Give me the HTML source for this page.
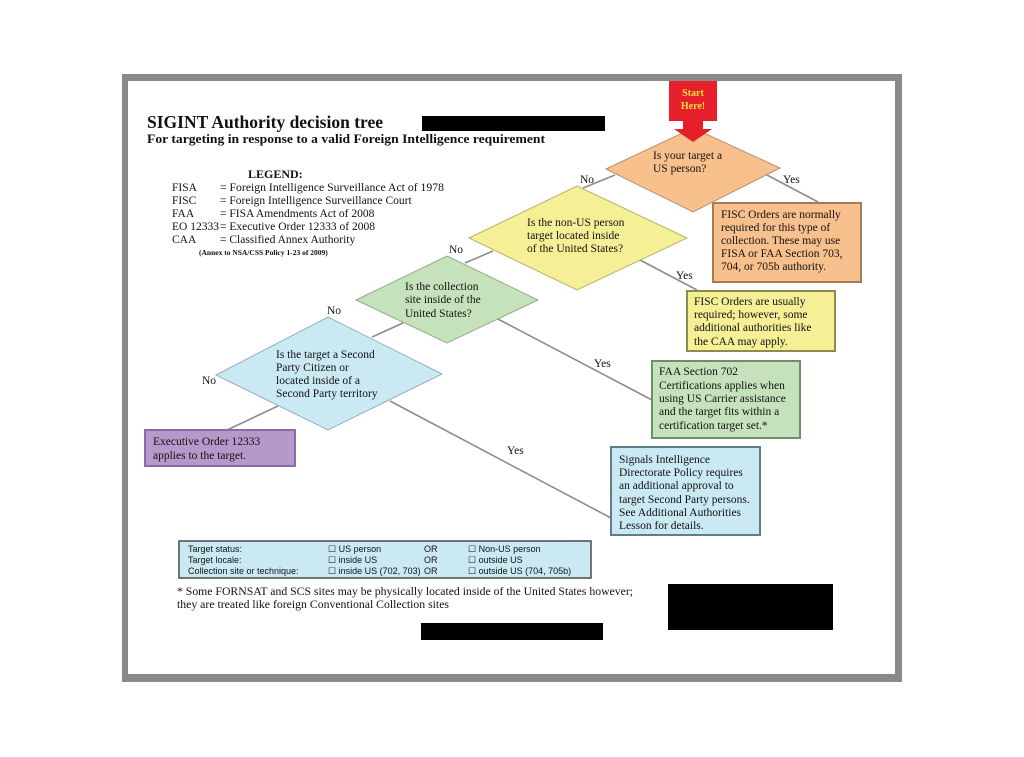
<!DOCTYPE html>
<html><head><meta charset="utf-8"><style>
html,body{margin:0;padding:0;background:#fff;}
svg{display:block;}
text{font-family:"Liberation Serif",serif;fill:#111;}
.s{font-family:"Liberation Sans",sans-serif;font-size:9px;}
</style></head><body>
<svg width="1024" height="757" viewBox="0 0 1024 757" xmlns="http://www.w3.org/2000/svg">
<rect x="0" y="0" width="1024" height="757" fill="#fff"/>
<rect x="122" y="74" width="780" height="608" fill="#8a8a8a"/>
<rect x="128" y="81" width="767" height="593" fill="#fff"/>

<text x="147" y="128" font-size="17.5" font-weight="bold" textLength="236" lengthAdjust="spacingAndGlyphs">SIGINT Authority decision tree</text>
<text x="147" y="143" font-size="13" font-weight="bold" textLength="398" lengthAdjust="spacingAndGlyphs">For targeting in response to a valid Foreign Intelligence requirement</text>
<rect x="422" y="116" width="183" height="15" fill="#000"/>

<text x="248" y="178" font-size="12" font-weight="bold">LEGEND:</text>
<g font-size="11.5">
<text x="172" y="191">FISA</text><text x="220" y="191" textLength="224" lengthAdjust="spacingAndGlyphs">= Foreign Intelligence Surveillance Act of 1978</text>
<text x="172" y="204">FISC</text><text x="220" y="204">= Foreign Intelligence Surveillance Court</text>
<text x="172" y="217">FAA</text><text x="220" y="217">= FISA Amendments Act of 2008</text>
<text x="172" y="230">EO 12333</text><text x="220" y="230">= Executive Order 12333 of 2008</text>
<text x="172" y="243">CAA</text><text x="220" y="243">= Classified Annex Authority</text>
</g>
<text x="199" y="255" font-size="7.5" font-weight="bold">(Annex to NSA/CSS Policy 1-23 of 2009)</text>

<g stroke="#8c8c8c" stroke-width="1.6" fill="none">
<line x1="615" y1="175" x2="583" y2="188"/>
<line x1="767" y1="175" x2="818" y2="202"/>
<line x1="493" y1="251" x2="465" y2="263"/>
<line x1="640" y1="260" x2="697" y2="290"/>
<line x1="403" y1="323" x2="372" y2="337"/>
<line x1="498" y1="319" x2="652" y2="400"/>
<line x1="278" y1="406" x2="227" y2="430"/>
<line x1="390" y1="401" x2="611" y2="518"/>
</g>

<polygon points="606,169 693,128 780,168 693,212" fill="#f8c08c" stroke="#b89070" stroke-width="1"/>
<polygon points="469,238 577,186 687,238 577,290" fill="#f5f096" stroke="#b8b070" stroke-width="1"/>
<polygon points="356,300 447,256 538,300 447,343" fill="#c6e2bc" stroke="#8fae86" stroke-width="1"/>
<polygon points="216,375 328,317 442,374 328,430" fill="#cbe9f3" stroke="#8fb0bb" stroke-width="1"/>

<rect x="669" y="81" width="48" height="40" fill="#e5202b"/>
<polygon points="683,120 703,120 703,129 712,129 693,142 674,129 683,129" fill="#e5202b"/>
<text x="693" y="96" font-size="10" font-weight="bold" text-anchor="middle" style="fill:#f8e23a">Start</text>
<text x="693" y="109" font-size="10" font-weight="bold" text-anchor="middle" style="fill:#f8e23a">Here!</text>

<g font-size="11.5">
<text x="653" y="159">Is your target a</text>
<text x="653" y="172">US person?</text>
<text x="527" y="226">Is the non-US person</text>
<text x="527" y="239">target located inside</text>
<text x="527" y="252">of the United States?</text>
<text x="405" y="290">Is the collection</text>
<text x="405" y="303">site inside of the</text>
<text x="405" y="317">United States?</text>
<text x="276" y="358">Is the target a Second</text>
<text x="276" y="371">Party Citizen or</text>
<text x="276" y="384">located inside of a</text>
<text x="276" y="397">Second Party territory</text>
</g>

<g font-size="11.5" style="fill:#444">
<text x="580" y="183">No</text>
<text x="783" y="183">Yes</text>
<text x="449" y="253">No</text>
<text x="676" y="279">Yes</text>
<text x="327" y="314">No</text>
<text x="594" y="367">Yes</text>
<text x="202" y="384">No</text>
<text x="507" y="454">Yes</text>
</g>

<rect x="713" y="203" width="148" height="79" fill="#f8c08c" stroke="#a87a56" stroke-width="2"/>
<g font-size="11.5">
<text x="721" y="218">FISC Orders are normally</text>
<text x="721" y="231">required for this type of</text>
<text x="721" y="244">collection.  These may use</text>
<text x="721" y="257">FISA or FAA Section 703,</text>
<text x="721" y="270">704, or 705b authority.</text>
</g>

<rect x="687" y="291" width="148" height="60" fill="#f5f096" stroke="#8e8a50" stroke-width="2"/>
<g font-size="11.5">
<text x="694" y="305">FISC Orders are usually</text>
<text x="694" y="318">required; however, some</text>
<text x="694" y="331">additional authorities like</text>
<text x="694" y="345">the CAA may apply.</text>
</g>

<rect x="652" y="361" width="148" height="77" fill="#c6e2bc" stroke="#6f8e6a" stroke-width="2"/>
<g font-size="11.5">
<text x="659" y="375">FAA Section 702</text>
<text x="659" y="389">Certifications applies when</text>
<text x="659" y="402">using US Carrier assistance</text>
<text x="659" y="415">and the target fits within a</text>
<text x="659" y="429">certification target set.*</text>
</g>

<rect x="611" y="447" width="149" height="88" fill="#cbe9f3" stroke="#5f7f88" stroke-width="2"/>
<g font-size="11.5">
<text x="619" y="463">Signals Intelligence</text>
<text x="619" y="476">Directorate Policy requires</text>
<text x="619" y="489">an additional approval to</text>
<text x="619" y="503">target Second Party persons.</text>
<text x="619" y="516">See Additional Authorities</text>
<text x="619" y="529">Lesson for details.</text>
</g>

<rect x="145" y="430" width="150" height="36" fill="#b699cb" stroke="#8f6aa6" stroke-width="2"/>
<g font-size="11.5">
<text x="153" y="445">Executive Order 12333</text>
<text x="153" y="459">applies to the target.</text>
</g>

<rect x="179" y="541" width="412" height="37" fill="#cbe9f3" stroke="#555" stroke-width="1.6"/>
<g class="s">
<text x="188" y="552" class="s">Target status:</text>
<text x="188" y="563" class="s">Target locale:</text>
<text x="188" y="574" class="s">Collection site or technique:</text>
<text x="328" y="552" class="s">☐ US person</text>
<text x="328" y="563" class="s">☐ inside US</text>
<text x="328" y="574" class="s">☐ inside US (702, 703)</text>
<text x="424" y="552" class="s">OR</text>
<text x="424" y="563" class="s">OR</text>
<text x="424" y="574" class="s">OR</text>
<text x="468" y="552" class="s">☐ Non-US person</text>
<text x="468" y="563" class="s">☐ outside US</text>
<text x="468" y="574" class="s">☐ outside US (704, 705b)</text>
</g>

<text x="177" y="595" font-size="11.5" textLength="456" lengthAdjust="spacingAndGlyphs">* Some FORNSAT and SCS sites may be physically located inside of the United States however;</text>
<text x="177" y="608" font-size="11.5" textLength="272" lengthAdjust="spacingAndGlyphs">they are treated like foreign Conventional Collection sites</text>

<rect x="421" y="623" width="182" height="17" fill="#000"/>
<rect x="668" y="584" width="165" height="46" fill="#000"/>
</svg>
</body></html>
